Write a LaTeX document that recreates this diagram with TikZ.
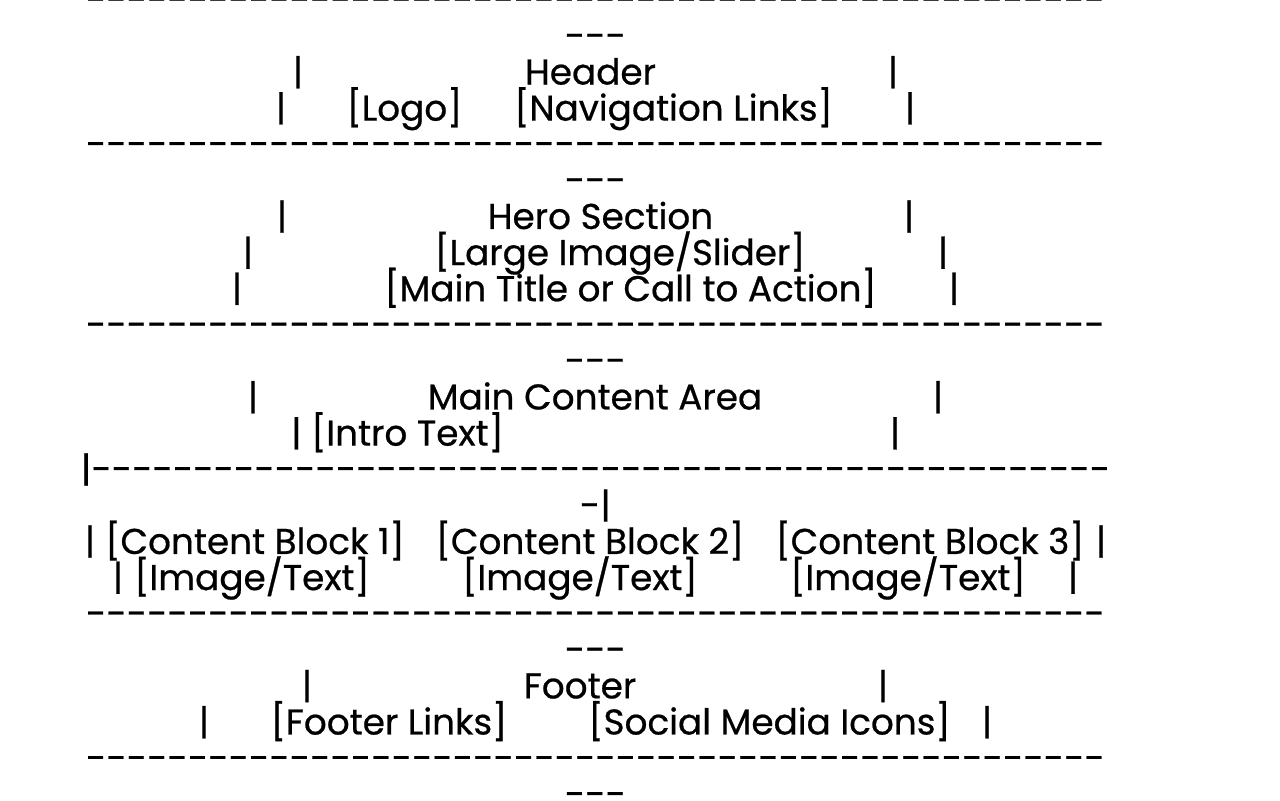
\documentclass[tikz,border=0pt]{standalone}
\usepackage{graphicx}
\usepackage{fontspec}
\newfontfamily\pop[Ligatures=TeXOff,FakeBold=0.6]{Poppins}
\newcommand\tenhy{----------}
\newcommand\fiftyhy{\tenhy\tenhy\tenhy\tenhy\tenhy}
\newcommand\sd[1]{\scalebox{1.033}[1]{#1}}
\begin{document}
\begin{tikzpicture}[x=0.75pt,y=-0.75pt,
  txt/.style={inner sep=0pt,outer sep=0pt,anchor=base,font=\pop\fontsize{26.85pt}{32pt}\selectfont}]
\useasboundingbox[fill=white] (0,0) rectangle (1280,800);
% header
\node[txt] (d0) at (595.5,12.28) {\sd{\fiftyhy}};
\node[txt] (c0) at (595.5,48.39) {\sd{---}};
\node[txt] (h1a) at (298,84.5) {|};
\node[txt] (h1) at (590.5,84.5) {Header};
\node[txt] (h1b) at (893,84.5) {|};
\node[txt] (h2a) at (281,120.61) {|};
\node[txt] (h2) at (404.5,120.61) {[Logo]};
\node[txt] (h3) at (673.5,120.61) {[Navigation Links]};
\node[txt] (h2b) at (910,120.61) {|};
% hero
\node[txt] (d1) at (595.5,156.72) {\sd{\fiftyhy}};
\node[txt] (c1) at (595.5,192.83) {\sd{---}};
\node[txt] (r1a) at (282,228.94) {|};
\node[txt] (r1) at (600.5,228.94) {Hero Section};
\node[txt] (r1b) at (909,228.94) {|};
\node[txt] (r2a) at (248,265.05) {|};
\node[txt] (r2) at (620,265.05) {[Large Image/Slider]};
\node[txt] (r2b) at (943,265.05) {|};
\node[txt] (r3a) at (237,301.16) {|};
\node[txt] (r3) at (630.5,301.16) {[Main Title or Call to Action]};
\node[txt] (r3b) at (954,301.16) {|};
% main content
\node[txt] (d2) at (595.5,337.27) {\sd{\fiftyhy}};
\node[txt] (c2) at (595.5,373.38) {\sd{---}};
\node[txt] (m1a) at (253,409.49) {|};
\node[txt] (m1) at (595,409.49) {Main Content Area};
\node[txt] (m1b) at (938,409.49) {|};
\node[txt] (m2) at (397.5,445.6) {| [Intro Text]};
\node[txt] (m2b) at (895,445.6) {|};
\node[txt] (d3) at (595.5,481.71) {\sd{|\fiftyhy}};
\node[txt] (c3) at (595.5,517.82) {\sd{-|}};
\node[txt] (b1a) at (90,553.93) {|};
\node[txt] (b1) at (255,553.93) {[Content Block 1]};
\node[txt] (b2) at (590,553.93) {[Content Block 2]};
\node[txt] (b3) at (930,553.93) {[Content Block 3]};
\node[txt] (b1b) at (1101,553.93) {|};
\node[txt] (i1a) at (118,590.04) {|};
\node[txt] (i1) at (252,590.04) {[Image/Text]};
\node[txt] (i2) at (580,590.04) {[Image/Text]};
\node[txt] (i3) at (908,590.04) {[Image/Text]};
\node[txt] (i1b) at (1073,590.04) {|};
% footer
\node[txt] (d4) at (595.5,626.15) {\sd{\fiftyhy}};
\node[txt] (c4) at (595.5,662.26) {\sd{---}};
\node[txt] (f1a) at (307,698.37) {|};
\node[txt] (f1) at (580,698.37) {Footer};
\node[txt] (f1b) at (883,698.37) {|};
\node[txt] (f2a) at (204,734.48) {|};
\node[txt] (f2) at (389,734.48) {[Footer Links]};
\node[txt] (f3) at (769.5,734.48) {[Social Media Icons]};
\node[txt] (f2b) at (987,734.48) {|};
\node[txt] (d5) at (595.5,770.59) {\sd{\fiftyhy}};
\node[txt] (c5) at (595.5,806.7) {\sd{---}};
\end{tikzpicture}
\end{document}
